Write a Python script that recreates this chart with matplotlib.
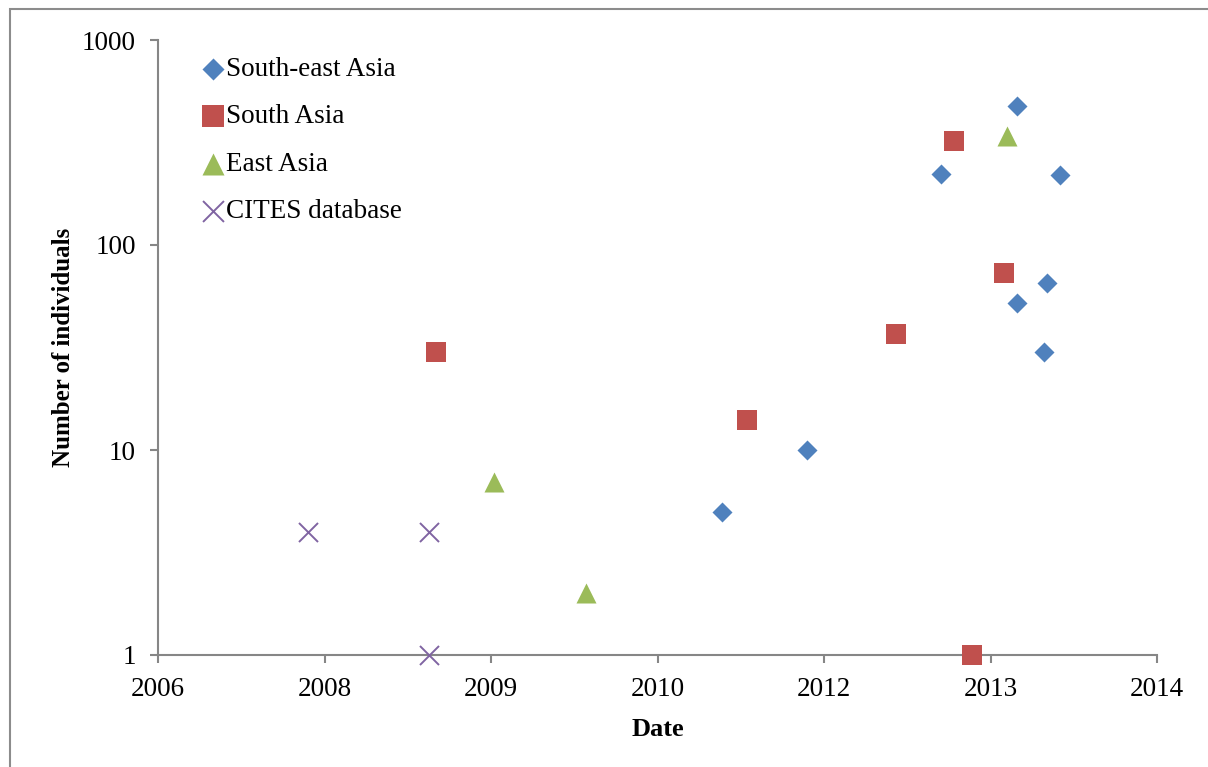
import matplotlib
matplotlib.use("Agg")
import matplotlib.pyplot as plt
from matplotlib.patches import Rectangle

# x positions are in axis units (one unit per labelled tick interval)
tick_labels = ["2006", "2008", "2009", "2010", "2012", "2013", "2014"]

se_asia_x = [3.39, 3.90, 4.70, 5.16, 5.42, 5.34, 5.16, 5.32]
se_asia_y = [5, 10, 222, 476, 219, 65, 52, 30]

s_asia_x = [1.67, 3.54, 4.43, 4.78, 5.08, 4.89]
s_asia_y = [30, 14, 37, 322, 73, 1]

e_asia_x = [2.02, 2.57, 5.10]
e_asia_y = [7, 2, 340]

cites_x = [0.90, 1.63, 1.63]
cites_y = [4, 4, 1]

W, H = 1208, 767
fig = plt.figure(figsize=(W / 100, H / 100), dpi=100)
plt.rcParams['font.family'] = ['Liberation Serif', 'DejaVu Serif']

# outer frame
fig.patches.append(Rectangle((10 / W, -0.1), 1.5, 1 - 9 / H + 0.1, transform=fig.transFigure,
                             fill=False, edgecolor='#8c8c8c', linewidth=1.5))

ax = fig.add_axes([158 / W, 1 - 655 / H, (1157 - 158) / W, (655 - 40) / H])
ax.set_yscale('log')
ax.set_ylim(1, 1000)
ax.set_xlim(0, 6)

ax.scatter(se_asia_x, se_asia_y, marker='D', s=10.2 ** 2, color='#4F81BD', label='South-east Asia', zorder=3, clip_on=False, linewidths=0)
ax.scatter(s_asia_x, s_asia_y, marker='s', s=14.4 ** 2, color='#C0504D', label='South Asia', zorder=3, clip_on=False, linewidths=0)
ax.scatter(e_asia_x, e_asia_y, marker='^', s=14.4 ** 2, color='#9BBB59', label='East Asia', zorder=3, clip_on=False, linewidths=0)
ax.scatter(cites_x, cites_y, marker='x', s=13.7 ** 2, color='#8064A2', label='CITES database', zorder=3, clip_on=False, linewidths=1.4)

ax.set_yticks([1, 10, 100, 1000])
ax.set_yticklabels(["1", "10", "100", "1000"])
ax.minorticks_off()
ax.set_xticks(range(len(tick_labels)))
ax.set_xticklabels(tick_labels)

for s in ['top', 'right']:
    ax.spines[s].set_visible(False)
for s in ['left', 'bottom']:
    ax.spines[s].set_color('#868686')
    ax.spines[s].set_linewidth(1.5)
ax.tick_params(axis='both', colors='#868686', labelcolor='black', labelsize=19.5,
               length=6, width=1.5, direction='out', pad=10)

ax.set_xlabel("Date", fontsize=19, fontweight='bold', labelpad=11)
ax.set_ylabel("Number of individuals", fontsize=18, fontweight='bold', labelpad=5)

leg = ax.legend(loc='upper left', bbox_to_anchor=(0.036, 0.99), frameon=False, fontsize=19.5,
                handlelength=0.6, handletextpad=0.2, labelspacing=0.83, borderaxespad=0,
                scatterpoints=1, markerscale=1.1)

fig.savefig("out.png", dpi=100)
